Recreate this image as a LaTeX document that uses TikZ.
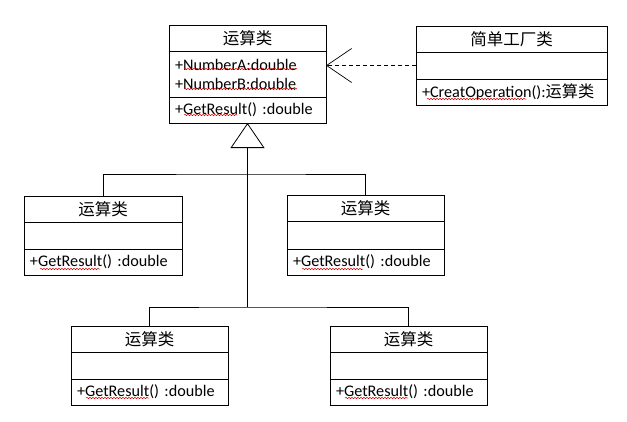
\documentclass[tikz,border=0pt]{standalone}
\usepackage{fontspec}
\setmainfont{Carlito}
\newfontfamily\cjkfont{Noto Sans CJK SC}
\usetikzlibrary{arrows.meta,positioning,decorations.pathmorphing}
\tikzset{
 uml/.style={draw,line width=.7pt,inner sep=0pt,outer sep=0pt},
 classname/.style={uml,minimum height=26pt,font=\cjkfont\fontsize{16.5}{18}\selectfont},
 members/.style={uml,align=left,inner xsep=6pt,font=\fontsize{16.2}{19}\selectfont},
 link/.style={line width=.8pt},
 generalize/.style={line width=.8pt,-{Triangle[open,length=25pt,width=34pt]}},
 depend/.style={line width=.7pt,dash pattern=on 4pt off 3pt,-{Straight Barb[length=25pt,width=34pt]}},
 spell/.style={red!85!black,line width=.5pt,decorate,decoration={snake,amplitude=.7pt,segment length=3pt}}
}
\begin{document}
\begin{tikzpicture}[x=1pt,y=-1pt]
\useasboundingbox (0,0) rectangle (627,421);
% base class
\node[classname,minimum width=157pt,anchor=north west] (calc) at (169,25) {运算类};
\node[members,text width=145pt,minimum height=46pt,below=0pt of calc] (calcattr) {+NumberA:double\\+NumberB:double};
\node[members,text width=145pt,minimum height=26pt,below=0pt of calcattr] (calcops) {+GetResult() :double};
% factory
\node[classname,minimum width=191pt,anchor=north west] (factory) at (416,26) {简单工厂类};
\node[members,text width=179pt,minimum height=27pt,below=0pt of factory] (factoryattr) {};
\node[members,text width=179pt,minimum height=26pt,below=0pt of factoryattr] (factoryops) {+CreatOperation():{\cjkfont 运算类}};
% subclasses
\node[classname,minimum width=158pt,anchor=north west] (opa) at (24,196) {运算类};
\node[members,text width=146pt,minimum height=27pt,below=0pt of opa] (opaattr) {};
\node[members,text width=146pt,minimum height=26pt,below=0pt of opaattr] (opaops) {+GetResult() :double};
\node[classname,minimum width=157pt,anchor=north west] (opb) at (287,195) {运算类};
\node[members,text width=145pt,minimum height=28pt,below=0pt of opb] (opbattr) {};
\node[members,text width=145pt,minimum height=26pt,below=0pt of opbattr] (opbops) {+GetResult() :double};
\node[classname,minimum width=157pt,anchor=north west] (opc) at (71,326) {运算类};
\node[members,text width=145pt,minimum height=27pt,below=0pt of opc] (opcattr) {};
\node[members,text width=145pt,minimum height=26pt,below=0pt of opcattr] (opcops) {+GetResult() :double};
\node[classname,minimum width=157pt,anchor=north west] (opd) at (330,326) {运算类};
\node[members,text width=145pt,minimum height=27pt,below=0pt of opd] (opdattr) {};
\node[members,text width=145pt,minimum height=26pt,below=0pt of opdattr] (opdops) {+GetResult() :double};
% inheritance tree
\coordinate (split1) at (calcops.south |- 0,174);
\coordinate (split2) at (calcops.south |- 0,307);
\draw[generalize] (split2) -- (calcops.south);
\draw[link] (opa.north) |- (split1) -| (opb.north);
\draw[link] (opc.north) |- (split2) -| (opd.north);
% dependency
\draw[depend] (factoryattr.west) -- (factoryattr.west -| calcattr.east);
% spell check marks
\draw[spell] (184,69) -- (297,69);
\draw[spell] (184,89) -- (297,89);
\draw[spell] (184,115) -- (237,115);
\draw[spell] (427,99) -- (526,99);
\draw[spell] (40,269) -- (100,269);
\draw[spell] (302,269) -- (363,269);
\draw[spell] (86,398) -- (149,398);
\draw[spell] (345,398) -- (408,398);
\end{tikzpicture}
\end{document}
